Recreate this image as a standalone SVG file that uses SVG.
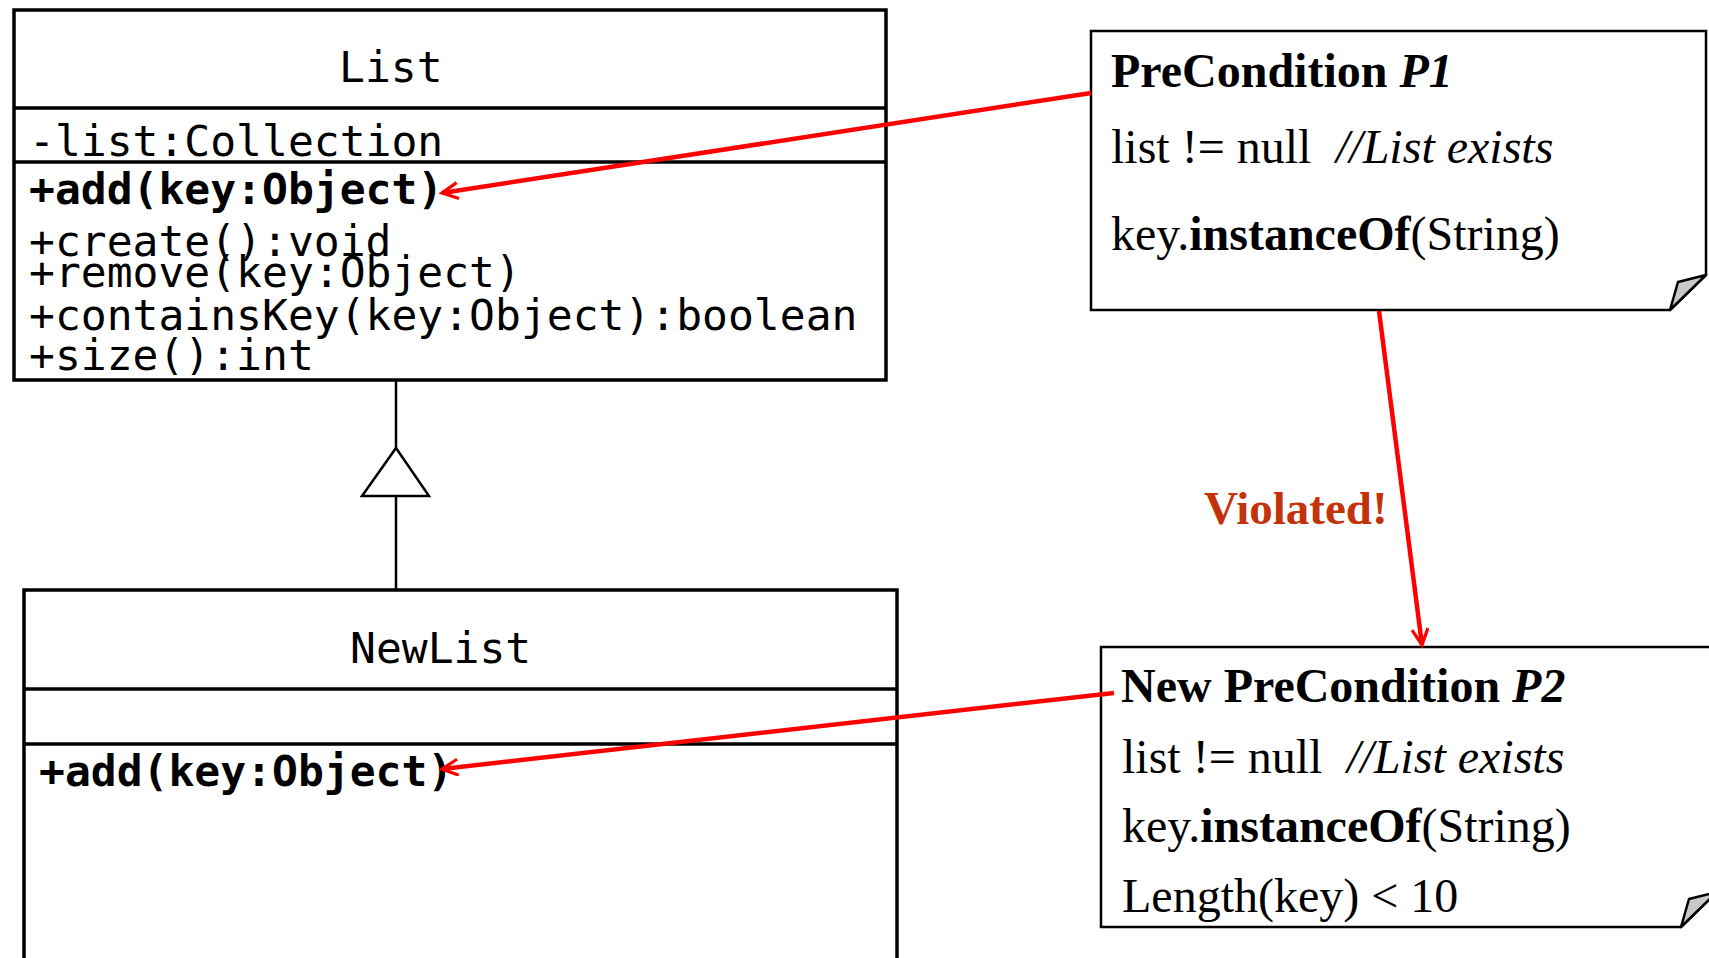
<svg xmlns="http://www.w3.org/2000/svg" width="1709" height="958" viewBox="0 0 1709 958">
  <style>
    .box { fill: #ffffff; stroke: #000000; stroke-width: 3.5; }
    .div { stroke: #000000; stroke-width: 3.5; }
    .mono { font-family: "DejaVu Sans Mono", "Liberation Mono", monospace; font-size: 43px; fill: #000000; }
    .bold { font-weight: bold; }
    .note { fill: #ffffff; stroke: #000000; stroke-width: 2.5; }
    .flap { fill: #c8c8c8; stroke: #000000; stroke-width: 2.5; stroke-linejoin: round; }
    .serif { font-family: "Liberation Serif", "Times New Roman", serif; font-size: 48px; fill: #000000; }
    .red { stroke: #ff0000; stroke-width: 4.5; fill: none; }
    .inherit { stroke: #000000; stroke-width: 2.5; fill: none; }
  </style>
  <defs>
    <marker id="arrow" markerUnits="userSpaceOnUse" markerWidth="26" markerHeight="26" refX="18" refY="9" orient="auto">
      <path d="M2,1 L18,9 L2,17" fill="none" stroke="#ff0000" stroke-width="3.2" stroke-linejoin="miter"/>
    </marker>
  </defs>
  <rect width="1709" height="958" fill="#ffffff"/>

  <!-- Class: List -->
  <g id="list">
    <rect class="box" x="14" y="10" width="872" height="370"/>
    <line class="div" x1="14" y1="108" x2="886" y2="108"/>
    <line class="div" x1="14" y1="162" x2="886" y2="162"/>
    <text class="mono" x="339" y="82">List</text>
    <text class="mono" x="29" y="156">-list:Collection</text>
    <text class="mono bold" x="29" y="204">+add(key:Object)</text>
    <text class="mono" x="29" y="256">+create():void</text>
    <text class="mono" x="29" y="287">+remove(key:Object)</text>
    <text class="mono" x="29" y="330">+containsKey(key:Object):boolean</text>
    <text class="mono" x="29" y="370">+size():int</text>
  </g>

  <!-- Class: NewList -->
  <g id="newlist">
    <rect class="box" x="24" y="590" width="873" height="400"/>
    <line class="div" x1="24" y1="689" x2="897" y2="689"/>
    <line class="div" x1="24" y1="744" x2="897" y2="744"/>
    <text class="mono" x="350" y="663">NewList</text>
    <text class="mono bold" x="39" y="786">+add(key:Object)</text>
  </g>

  <!-- Note: precondition P1 -->
  <g id="note-p1">
    <path class="note" d="M1091,31 H1706 V275 L1670,310 H1091 Z"/>
    <path class="flap" d="M1706,275 L1678,282 L1670,310 Z"/>
    <text class="serif" x="1111" y="87"><tspan font-weight="bold">PreCondition </tspan><tspan font-weight="bold" font-style="italic">P1</tspan></text>
    <text class="serif" x="1111" y="163">list != null</text>
    <text class="serif" x="1336" y="163" font-style="italic">//List exists</text>
    <text class="serif" x="1111" y="250">key.<tspan font-weight="bold">instanceOf</tspan>(String)</text>
  </g>

  <!-- Note: new precondition P2 -->
  <g id="note-p2">
    <path class="note" d="M1101,647 H1717 V892 L1681,927 H1101 Z"/>
    <path class="flap" d="M1717,892 L1689,899 L1681,927 Z"/>
    <text class="serif" x="1121" y="702"><tspan font-weight="bold">New PreCondition </tspan><tspan font-weight="bold" font-style="italic">P2</tspan></text>
    <text class="serif" x="1122" y="773">list != null</text>
    <text class="serif" x="1347" y="773" font-style="italic">//List exists</text>
    <text class="serif" x="1122" y="842">key.<tspan font-weight="bold">instanceOf</tspan>(String)</text>
    <text class="serif" x="1122" y="912">Length(key) &lt; 10</text>
  </g>

  <!-- Label -->
  <g id="violated">
    <text x="1204" y="524" font-family="'Liberation Serif', 'Times New Roman', serif" font-size="47" font-weight="bold" fill="#c4320a">Violated!</text>
  </g>

  <!-- Connectors -->
  <g id="connectors">
    <line class="inherit" x1="396" y1="380" x2="396" y2="448"/>
    <path class="inherit" d="M396,448 L429,496 L362,496 Z" fill="#ffffff"/>
    <line class="inherit" x1="396" y1="496" x2="396" y2="590"/>
    <line class="red" x1="1091" y1="93" x2="442" y2="193" marker-end="url(#arrow)"/>
    <line class="red" x1="1114" y1="693" x2="442" y2="769" marker-end="url(#arrow)"/>
    <line class="red" x1="1379" y1="311" x2="1422" y2="645" marker-end="url(#arrow)"/>
  </g>
</svg>
